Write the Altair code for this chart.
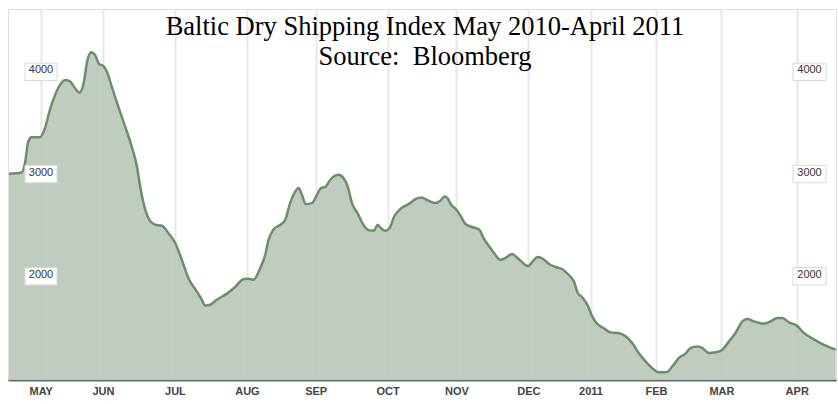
import altair as alt
import pandas as pd

# trading-day index (0 = mid-April 2010) and Baltic Dry Index values
days = [0.3, 4.2, 5.2, 6.2, 7.2, 9.8, 11.3, 12.8, 14.4, 15.9, 17.6, 19.0, 20.5, 21.8, 23.0,
        24.3, 25.4, 26.6, 27.8, 29.1, 30.2, 31.7, 33.7, 35.8, 37.8, 39.4, 40.4, 41.4, 42.9,
        45.0, 47.0, 49.0, 51.1, 53.1, 55.1, 57.7, 59.2, 60.2, 61.8, 63.8, 66.9, 69.4, 72.0,
        73.5, 75.0, 77.1, 78.6, 79.6, 81.1, 83.2, 84.7, 86.2, 87.5, 88.8, 89.8, 91.0, 92.9,
        94.4, 95.6, 96.9, 98.5, 99.5, 101.0, 102.5, 103.8, 105.1, 106.8, 108.6, 110.5, 111.9,
        112.9, 113.9, 115.3, 116.6, 118.0, 119.9, 121.4, 122.9, 124.5, 126.3, 128.5, 130.6,
        132.1, 133.4, 134.3, 135.4, 137.0, 138.4, 139.7, 141.8, 144.0, 145.3, 147.4, 148.9,
        150.4, 152.0, 154.0, 155.7, 157.6, 158.9, 160.3, 161.9, 163.5, 165.2, 167.3, 169.3,
        171.3, 172.9, 174.1, 175.4, 177.0, 178.5, 180.0, 182.0, 184.1, 186.6, 188.7, 190.7,
        192.7, 194.8, 196.8, 198.9, 201.4, 203.0, 205.0, 207.0, 208.6, 210.6, 212.1, 214.2,
        216.2, 218.3, 220.3, 222.3, 224.4, 225.9, 227.9, 231.0, 233.0, 235.1, 236.6, 238.6,
        241.0, 243.2, 245.5, 247.8, 250.4, 252.9]
bdi = [3018, 3030, 3125, 3333, 3376, 3376, 3464, 3643, 3790, 3888, 3936, 3920, 3855, 3812, 3888,
       4132, 4207, 4181, 4093, 4073, 4018, 3871, 3675, 3480, 3284, 3089, 2893, 2731, 2585,
       2519, 2509, 2438, 2340, 2177, 1998, 1867, 1786, 1730, 1737, 1786, 1845, 1910, 1988,
       1991, 1981, 2096, 2226, 2372, 2470, 2519, 2568, 2731, 2829, 2878, 2812, 2721, 2731,
       2812, 2878, 2888, 2959, 2991, 3008, 2976, 2893, 2731, 2633, 2519, 2463, 2463,
       2519, 2487, 2460, 2487, 2600, 2673, 2705, 2731, 2770, 2785, 2754, 2731,
       2754, 2796, 2780, 2715, 2666, 2600, 2529, 2497, 2470, 2389, 2291, 2226,
       2177, 2194, 2233, 2194, 2138, 2112, 2160, 2203, 2184, 2138, 2106, 2086,
       2030, 1965, 1851, 1812, 1737, 1623, 1551, 1509, 1466, 1460, 1427, 1363,
       1265, 1183, 1118, 1075, 1079, 1134, 1216, 1258, 1314, 1329, 1314, 1265,
       1271, 1297, 1378, 1460, 1574, 1597, 1574, 1551, 1574, 1607, 1607, 1564,
       1532, 1460, 1412, 1369, 1329, 1297]

month_days = [10, 29, 51, 73, 94, 116, 137, 159, 178, 198, 218, 241]
month_labels = ["MAY", "JUN", "JUL", "AUG", "SEP", "OCT", "NOV", "DEC", "2011", "FEB", "MAR", "APR"]
y_ticks = [2000, 3000, 4000]
title_lines = ["Baltic Dry Shipping Index May 2010-April 2011", "Source:\u00a0 Bloomberg"]

df = pd.DataFrame({"day": days, "bdi": bdi})
ticks_df = pd.DataFrame({"v": y_ticks})
title_df = pd.DataFrame({"k": [0]})

label_expr = ("[" + ",".join(f"'{l}'" for l in month_labels) + "][indexof(["
              + ",".join(str(d) for d in month_days) + "], datum.value)]")

xscale = alt.Scale(domain=[0, 253], nice=False, zero=False)
yscale = alt.Scale(domain=[1000, 4630], nice=False, zero=False)

x_enc = alt.X("day:Q", scale=xscale, axis=alt.Axis(
    values=month_days, labelExpr=label_expr, title=None, grid=True,
    gridColor="#e8e8e8", gridWidth=2, domainColor="#666666", domainWidth=2,
    ticks=False, labelFont="Liberation Sans", labelFontSize=11, labelFontWeight="bold",
    labelColor="#444444", labelPadding=5, labelFlush=False))
y_enc = alt.Y("bdi:Q", scale=yscale, axis=alt.Axis(
    values=y_ticks, labels=False, ticks=False, domain=False, title=None, grid=True,
    gridColor="#e8e8e8", gridWidth=2))

area = alt.Chart(df).mark_area(color="#b9c7b9", opacity=0.9, interpolate="monotone").encode(
    x=x_enc, y=y_enc, y2=alt.datum(1000))
line = alt.Chart(df).mark_line(color="#6b8f69", strokeWidth=2.5, interpolate="monotone").encode(
    x=alt.X("day:Q", scale=xscale), y=alt.Y("bdi:Q", scale=yscale))


def box_layer(x0, x1):
    rect = alt.Chart(ticks_df).transform_calculate(
        lo="datum.v - 70", hi="datum.v + 100").mark_rect(
        fill="white", stroke="#d9d9d9", strokeWidth=1).encode(
        x=alt.value(x0), x2=alt.value(x1),
        y=alt.Y("lo:Q", scale=yscale, axis=None), y2="hi:Q")
    txt = alt.Chart(ticks_df).transform_calculate(tv="datum.v + 30").mark_text(
        font="Liberation Sans", fontSize=11, color="#333333", baseline="middle",
        align="center").encode(
        x=alt.value((x0 + x1) / 2), y=alt.Y("tv:Q", scale=yscale, axis=None),
        text=alt.Text("v:Q", format="d"))
    return rect + txt


title = alt.Chart(title_df).mark_text(
    font="Liberation Serif", fontSize=26.5, color="#000000", align="center",
    baseline="alphabetic", lineHeight=30).encode(
    x=alt.value(417), y=alt.value(26), text=alt.value(title_lines))

chart = alt.layer(area, line, box_layer(17, 49), box_layer(785, 818), title).properties(
    width=828, height=371,
    padding={"left": 8, "top": 9, "right": 2, "bottom": 24},
    autosize=alt.AutoSizeParams(type="none"),
).configure_view(stroke=None).configure(background="white")

chart.save("out.html", embed_options={"renderer": "svg", "actions": False})
